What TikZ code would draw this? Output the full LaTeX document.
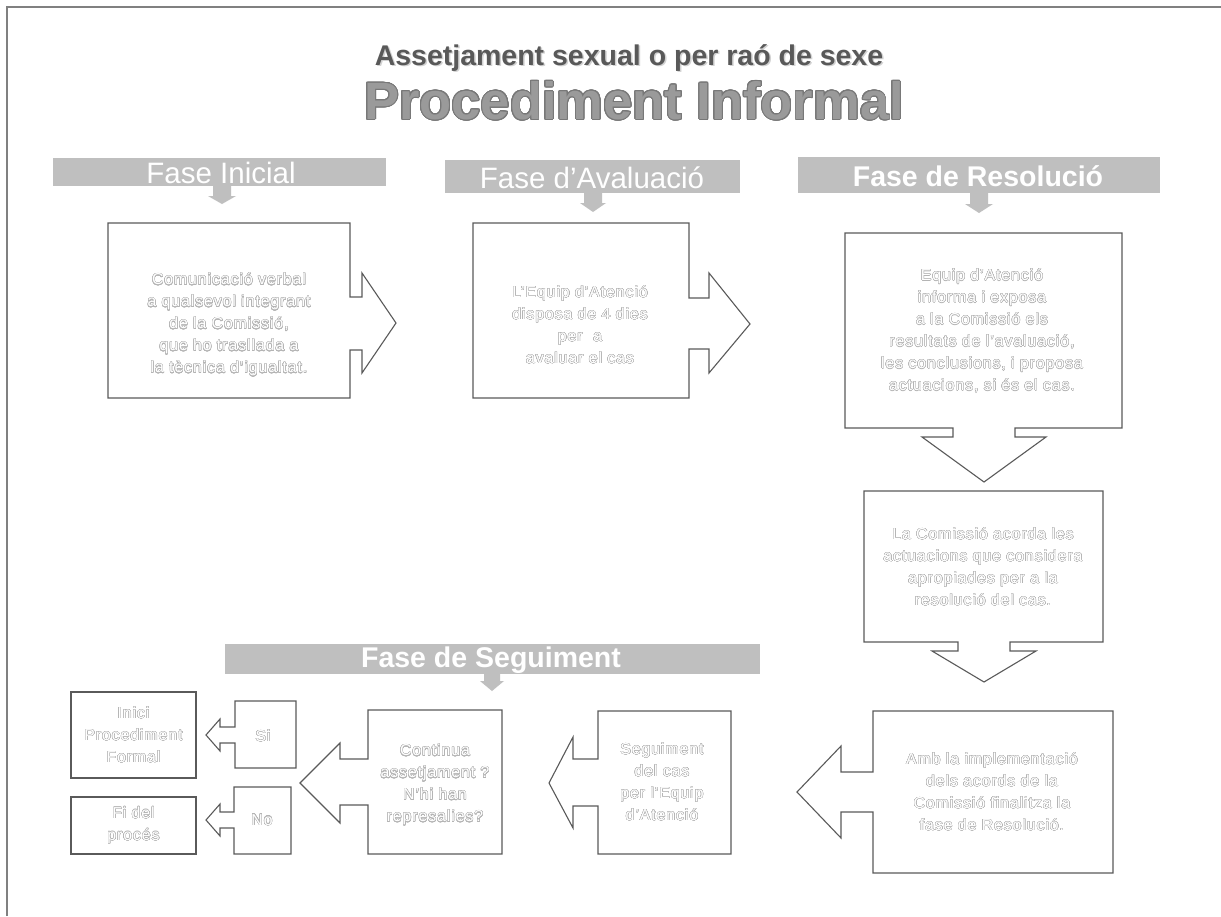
\documentclass[tikz,border=0pt]{standalone}
\usepackage{fontspec}
\setmainfont{Liberation Sans}
\newfontfamily\boxfont[LetterSpace=6]{Liberation Sans}
\usepackage{contour}
\contournumber{24}
\contourlength{0.4pt}
\definecolor{edge}{HTML}{5A5A5A}
\definecolor{framec}{HTML}{808080}
\definecolor{barfill}{HTML}{BFBFBF}
\definecolor{txtline}{HTML}{B4B4B4}
\definecolor{titledark}{HTML}{595959}
\definecolor{titlefill}{HTML}{9A9A9A}
\definecolor{titleline}{HTML}{787878}
\newcommand{\olt}[1]{\contour{txtline}{#1}}
\tikzset{
  callout/.style={draw=edge, line width=1.1pt, fill=white, line join=miter},
  plainbox/.style={draw=edge, line width=1.1pt, fill=white, inner sep=0pt},
  barbox/.style={fill=barfill, draw=none},
  bartext/.style={text=white, inner sep=0pt, font=\fontsize{29.5}{30}\selectfont},
  boxtext/.style={text=white, align=center, inner sep=0pt, font=\boxfont\fontsize{15.8}{22}\selectfont},
}
\begin{document}
\begin{tikzpicture}[x=1pt,y=-1pt]
\useasboundingbox (0,0) rectangle (1221,916);
\fill[white] (0,0) rectangle (1221,916);
\draw[framec, line width=1.5pt] (7,916) -- (7,7) -- (1221,7);

% titles
\node[text=gray!35, font=\bfseries\fontsize{28.5}{30}\selectfont] at (630.5,59.5) {Assetjament sexual o per raó de sexe};
\node[text=titledark, font=\bfseries\fontsize{28.5}{30}\selectfont] (t1) at (629,58) {Assetjament sexual o per raó de sexe};
\node[text=titlefill, font=\bfseries\fontsize{52.5}{56}\selectfont] (t2) at (634,101) {\contourlength{0.9pt}\contour{titleline}{Procediment Informal}};

% phase bars
\fill[barbox] (53,158) rectangle (386,186);
\fill[barbox] (213,186) -- (231,186) -- (231,196) -- (236,196) -- (222,204) -- (208,196) -- (213,196) -- cycle;
\node[bartext] (f1) at (221,173) {Fase Inicial};

\fill[barbox] (445,160) rectangle (740,193);
\fill[barbox] (584,193) -- (602,193) -- (602,203) -- (606,203) -- (593,212) -- (580,203) -- (584,203) -- cycle;
\node[bartext] (f2) at (592,178) {Fase d’Avaluació};

\fill[barbox] (798,157) rectangle (1160,193);
\fill[barbox] (970,193) -- (988,193) -- (988,204) -- (993,204) -- (979,213) -- (965,204) -- (970,204) -- cycle;
\node[bartext, font=\bfseries\fontsize{28.5}{30}\selectfont] (f3) at (978,176) {Fase de Resolució};

\fill[barbox] (225,644) rectangle (760,674);
\fill[barbox] (484,674) -- (500,674) -- (500,681) -- (504,681) -- (492,691) -- (480,681) -- (484,681) -- cycle;
\node[bartext, font=\bfseries\fontsize{28.5}{30}\selectfont] (f4) at (491,660) {Fase de Seguiment};

% box 1
\draw[callout] (108,223) -- (350,223) -- (350,297) -- (362,297) -- (362,273) -- (396,323) -- (362,373) -- (362,350) -- (350,350) -- (350,398) -- (108,398) -- cycle;
\node[boxtext] (b1) at (229,325) {\olt{Comunicació verbal}\\\olt{a qualsevol integrant}\\\olt{de la Comissió,}\\\olt{que ho trasllada a}\\\olt{la tècnica d’igualtat.}};

% box 2
\draw[callout] (473,223) -- (689,223) -- (689,298) -- (709,298) -- (709,273) -- (750,324) -- (709,373) -- (709,349) -- (689,349) -- (689,398) -- (473,398) -- cycle;
\node[boxtext] (b2) at (580,325) {\olt{L’Equip d’Atenció}\\\olt{disposa de 4 dies}\\\olt{per~~a}\\\olt{avaluar el cas}};

% box 3
\draw[callout] (845,233) -- (1122,233) -- (1122,428) -- (1015,428) -- (1015,437) -- (1046,437) -- (984,482) -- (922,437) -- (953,437) -- (953,428) -- (845,428) -- cycle;
\node[boxtext] (b3) at (982,331) {\olt{Equip d’Atenció}\\\olt{informa i exposa}\\\olt{a la Comissió els}\\\olt{resultats de l’avaluació,}\\\olt{les conclusions, i proposa}\\\olt{actuacions, si és el cas.}};

% box 4
\draw[callout] (864,491) -- (1103,491) -- (1103,642) -- (1010,642) -- (1010,651) -- (1036,651) -- (984,682) -- (932,651) -- (958,651) -- (958,642) -- (864,642) -- cycle;
\node[boxtext] (b4) at (983,567) {\olt{La Comissió acorda les}\\\olt{actuacions que considera}\\\olt{apropiades per a la}\\\olt{resolució del cas.}};

% box 5
\draw[callout] (1113,711) -- (1113,873) -- (873,873) -- (873,812) -- (841,812) -- (841,838) -- (797,792) -- (841,746) -- (841,772) -- (873,772) -- (873,711) -- cycle;
\node[boxtext] (b5) at (992,792) {\olt{Amb la implementació}\\\olt{dels acords de la}\\\olt{Comissió finalitza la}\\\olt{fase de Resolució.}};

% seguiment
\draw[callout] (731,711) -- (731,854) -- (598,854) -- (598,806) -- (573,806) -- (573,828) -- (549,783) -- (573,737) -- (573,759) -- (598,759) -- (598,711) -- cycle;
\node[boxtext] (b6) at (662,782) {\olt{Seguiment}\\\olt{del cas}\\\olt{per l’Equip}\\\olt{d’Atenció}};

% continua
\draw[callout] (502,710) -- (502,854) -- (368,854) -- (368,805) -- (340,805) -- (340,823) -- (300,783) -- (340,743) -- (340,759) -- (368,759) -- (368,710) -- cycle;
\node[boxtext] (b7) at (435,785) {\olt{Continua}\\\olt{assetjament ?}\\\olt{N’hi han}\\\olt{represalies?}};

% si
\draw[callout] (296,701) -- (296,768) -- (235,768) -- (235,743) -- (220,743) -- (220,751) -- (206,735) -- (220,719) -- (220,727) -- (235,727) -- (235,701) -- cycle;
\node[boxtext] (si) at (263,736) {\olt{Si}};

% no
\draw[callout] (291,787) -- (291,854) -- (234,854) -- (234,828) -- (220,828) -- (220,836) -- (206,820) -- (220,804) -- (220,812) -- (234,812) -- (234,787) -- cycle;
\node[boxtext] (no) at (262,820) {\olt{No}};

% end boxes
\node[plainbox, minimum width=125pt, minimum height=86pt] (inici) at (133.5,735) {};
\node[boxtext] (inicit) at (inici) {\olt{Inici}\\\olt{Procediment}\\\olt{Formal}};
\node[plainbox, minimum width=125pt, minimum height=57pt] (fi) at (133.5,825.5) {};
\node[boxtext] (fit) at (fi) {\olt{Fi del}\\\olt{procés}};
\end{tikzpicture}
\end{document}
